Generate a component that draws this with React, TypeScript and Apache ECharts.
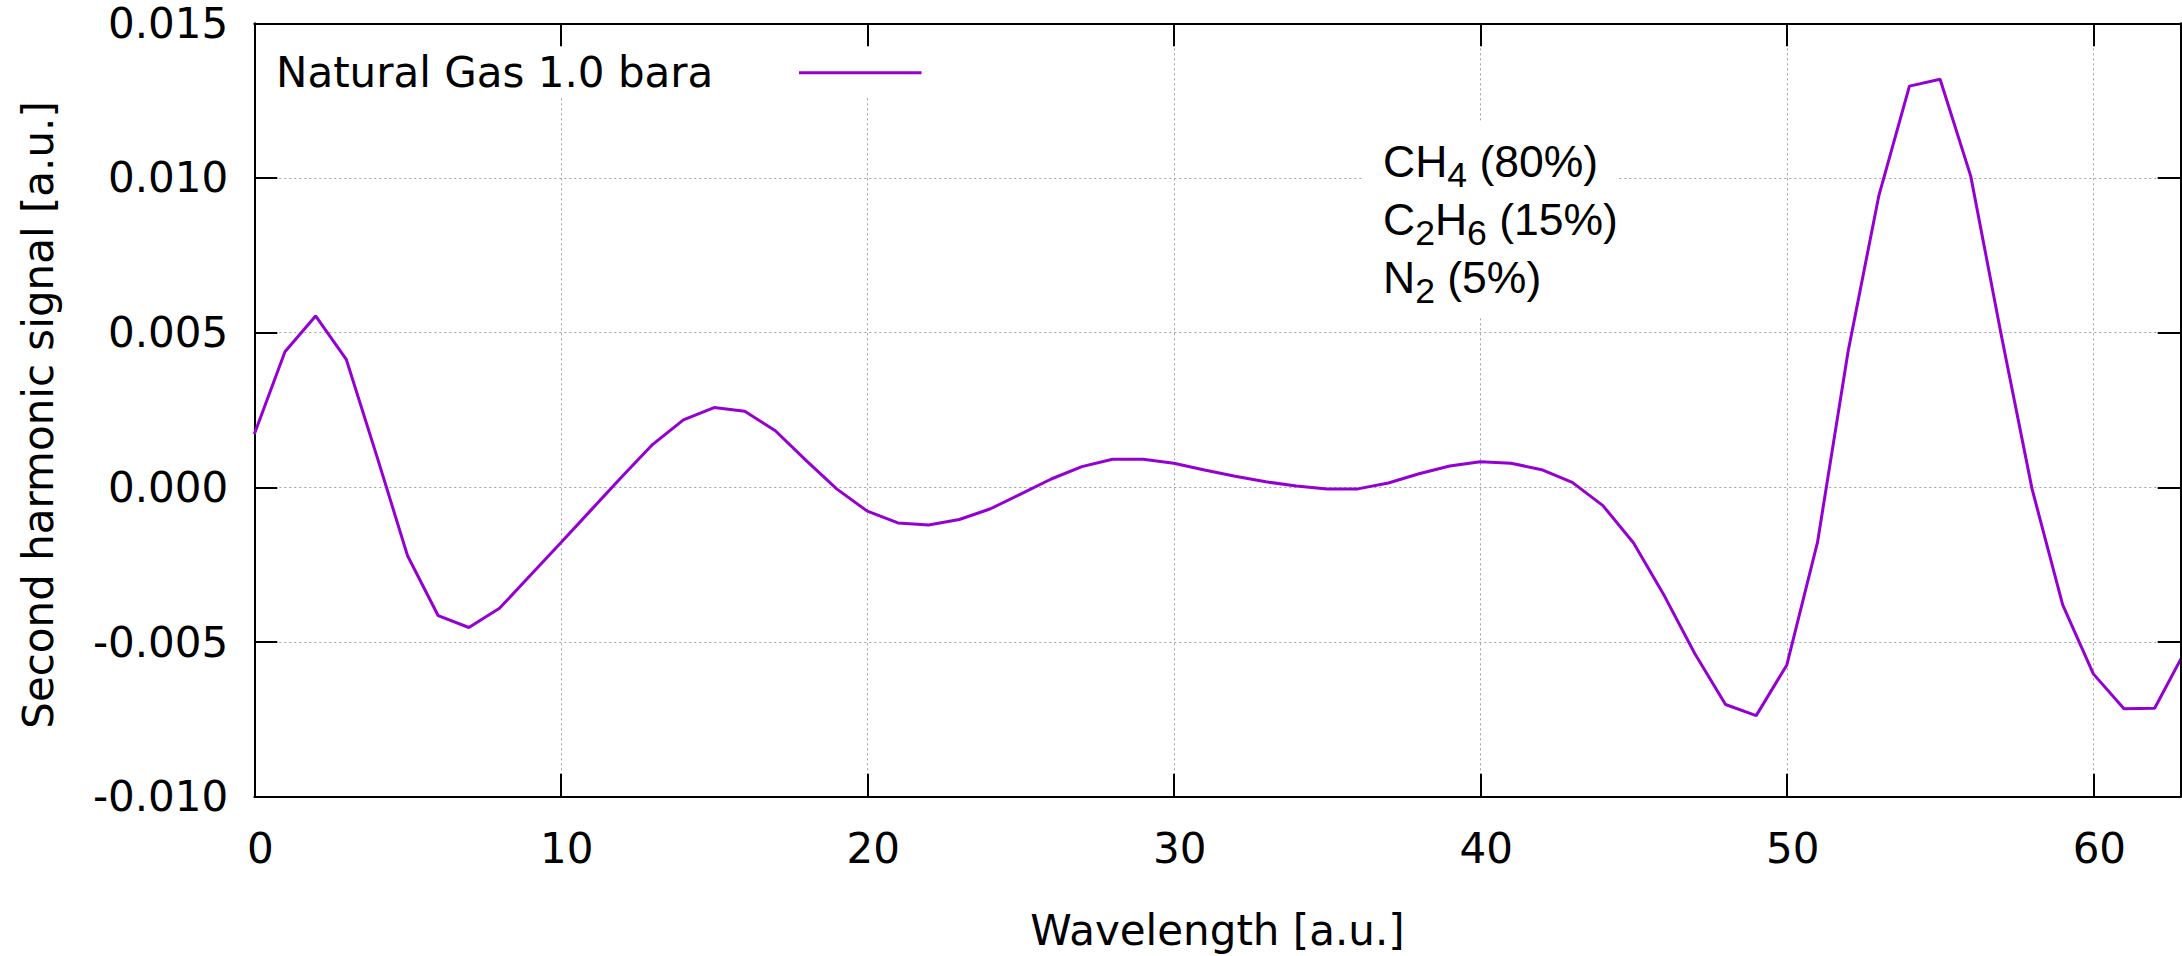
import React, { useEffect, useRef } from "react";
import * as echarts from "echarts";

// ---- data ----
const wavelength = [
  0, 1, 2, 3, 4, 5, 6, 7, 8, 9, 10, 11, 12, 13, 14, 15, 16, 17, 18, 19, 20,
  21, 22, 23, 24, 25, 26, 27, 28, 29, 30, 31, 32, 33, 34, 35, 36, 37, 38, 39,
  40, 41, 42, 43, 44, 45, 46, 47, 48, 49, 50, 51, 52, 53, 54, 55, 56, 57, 58,
  59, 60, 61, 62, 63,
];
const signal = [
  0.00172, 0.00438, 0.00554, 0.00414, 0.001, -0.00221, -0.00415, -0.00453,
  -0.00391, -0.00285, -0.00179, -0.00072, 0.00035, 0.00139, 0.00218, 0.00258,
  0.00246, 0.00183, 0.00087, -0.00005, -0.00077, -0.00115, -0.00122, -0.00104,
  -0.0007, -0.00022, 0.00027, 0.00067, 0.00091, 0.00091, 0.00078, 0.00056,
  0.00036, 0.00018, 0.00004, -0.00005, -0.00005, 0.00014, 0.00044, 0.00069,
  0.00083, 0.00078, 0.00057, 0.00016, -0.00059, -0.0018, -0.0035, -0.00538,
  -0.00702, -0.00738, -0.00574, -0.00178, 0.0044, 0.00942, 0.01297, 0.01319,
  0.01006, 0.0049, -0.00005, -0.0038, -0.00603, -0.00716, -0.00714, -0.00528,
];
const seriesName = "Natural Gas 1.0 bara";
const xTitle = "Wavelength [a.u.]";
const yTitle = "Second harmonic signal [a.u.]";
const X_MIN = 0;
const X_MAX = 62.85;
const X_STEP = 10;
const Y_MIN = -0.01;
const Y_MAX = 0.015;
const Y_STEP = 0.005;
const annotation =
  "{m|CH}{s|4}{m| (80%)}\n{m|C}{s|2}{m|H}{s|6}{m| (15%)}\n{m|N}{s|2}{m| (5%)}";

const FONT = "'DejaVu Sans', sans-serif";
const ANNOT_FONT = "'Liberation Sans', Arial, sans-serif";
const LINE_COLOR = "#9400d3";

export default function App() {
  const ref = useRef<HTMLDivElement>(null);

  useEffect(() => {
    if (!ref.current) return;
    const chart = echarts.init(ref.current, null, { renderer: "svg" });

    const axisLine = { show: true, onZero: false, lineStyle: { color: "#000", width: 2 } };
    const axisTick = { show: true, inside: true, length: 23, lineStyle: { color: "#000", width: 2 } };
    const grid = { show: true, lineStyle: { color: "#a0a0a0", width: 1, type: [2, 3] } };

    const option: any = {
      animation: false,
      backgroundColor: "#ffffff",
      grid: { left: 254.3, top: 23.3, width: 1926.4, height: 773.4, containLabel: false },
      xAxis: [
        {
          type: "value",
          position: "bottom",
          min: X_MIN,
          max: X_MAX,
          interval: X_STEP,
          axisLine,
          axisTick,
          splitLine: grid,
          axisLabel: {
            show: true,
            margin: 31,
            color: "#000",
            fontFamily: FONT,
            fontSize: 42,
            showMaxLabel: false,
            padding: [0, 0, 0, 12],
            formatter: (v: number) => String(Math.round(v)),
          },
        },
        {
          type: "value",
          position: "top",
          min: X_MIN,
          max: X_MAX,
          interval: X_STEP,
          z: 3,
          axisLine,
          axisTick,
          splitLine: { show: false },
          axisLabel: { show: false },
        },
      ],
      yAxis: [
        {
          type: "value",
          position: "left",
          min: Y_MIN,
          max: Y_MAX,
          interval: Y_STEP,
          axisLine,
          axisTick,
          splitLine: grid,
          axisLabel: {
            show: true,
            margin: 26,
            color: "#000",
            fontFamily: FONT,
            fontSize: 42,
            padding: [5, 0, 0, 0],
            formatter: (v: number) => (Math.abs(v) < 1e-10 ? 0 : v).toFixed(3),
          },
        },
        {
          type: "value",
          position: "right",
          min: Y_MIN,
          max: Y_MAX,
          interval: Y_STEP,
          z: 3,
          axisLine,
          axisTick,
          splitLine: { show: false },
          axisLabel: { show: false },
        },
      ],
      series: [
        {
          name: seriesName,
          type: "line",
          xAxisIndex: 0,
          yAxisIndex: 0,
          data: wavelength.map((x, i) => [x, signal[i]]),
          showSymbol: false,
          symbol: "none",
          clip: true,
          z: 2,
          lineStyle: { color: LINE_COLOR, width: 3 },
        },
      ],
      graphic: [
        {
          type: "rect",
          z: 1,
          silent: true,
          shape: { x: 256, y: 25, width: 700, height: 72 },
          style: { fill: "#ffffff" },
        },
        {
          type: "rect",
          z: 1,
          silent: true,
          shape: { x: 1362, y: 121.7, width: 254, height: 196.6 },
          style: { fill: "#ffffff" },
        },
        {
          type: "text",
          z: 5,
          x: 276,
          y: 72.8,
          style: {
            text: seriesName,
            fontFamily: FONT,
            fontSize: 42,
            fill: "#000",
            textAlign: "left",
            textVerticalAlign: "middle",
            align: "left",
            verticalAlign: "middle",
          },
        },
        {
          type: "line",
          z: 5,
          shape: { x1: 799, y1: 72.7, x2: 921.5, y2: 72.7 },
          style: { stroke: LINE_COLOR, lineWidth: 3 },
        },
        {
          type: "text",
          z: 5,
          x: 38,
          y: 415,
          rotation: Math.PI / 2,
          style: {
            text: yTitle,
            fontFamily: FONT,
            fontSize: 42,
            fill: "#000",
            textAlign: "center",
            textVerticalAlign: "middle",
            align: "center",
            verticalAlign: "middle",
          },
        },
        {
          type: "text",
          z: 5,
          x: 1217.5,
          y: 930.5,
          style: {
            text: xTitle,
            fontFamily: FONT,
            fontSize: 42,
            fill: "#000",
            textAlign: "center",
            textVerticalAlign: "middle",
            align: "center",
            verticalAlign: "middle",
          },
        },
        {
          type: "text",
          z: 5,
          x: 1383,
          y: 132.9,
          style: {
            text: annotation,
            textAlign: "left",
            textVerticalAlign: "top",
            align: "left",
            verticalAlign: "top",
            rich: {
              m: { fontSize: 44.5, fontFamily: ANNOT_FONT, lineHeight: 58, fill: "#000" },
              s: {
                fontSize: 35.6,
                fontFamily: ANNOT_FONT,
                lineHeight: 58,
                padding: [26, 0, 0, 0],
                fill: "#000",
              },
            },
          },
        },
      ],
    };

    chart.setOption(option);
    return () => {
      chart.dispose();
    };
  }, []);

  return (
    <div
      ref={ref}
      style={{ position: "fixed", left: 0, top: 0, width: 2182, height: 956, background: "#fff" }}
    />
  );
}
